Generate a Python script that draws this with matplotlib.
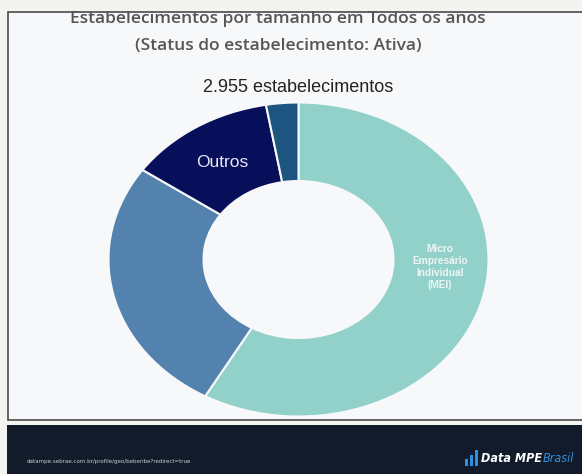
import matplotlib.pyplot as plt
from matplotlib.patches import Rectangle

# --- Data ---
labels = ['Micro\nEmpresário\nIndividual\n(MEI)', '', 'Outros', '']
counts = [1719, 783, 372, 81]
colors = ['#92d0ca', '#5282ad', '#070f5a', '#1e5580']
text_colors = ['#eef6f5', '#ffffff', '#e6e8f4', '#ffffff']
label_sizes = [7.3, 9, 12.5, 9]
total_label = '2.955 estabelecimentos'
title_lines = ['Estabelecimentos por tamanho em Todos os anos',
               '(Status do estabelecimento: Ativa)']
footer_url = 'datampe.sebrae.com.br/profile/geo/beberibe?redirect=true'

W, H = 582, 474
fig = plt.figure(figsize=(W / 100, H / 100), dpi=100)
fig.patch.set_facecolor('#f3f4f0')

# panel and footer
fig.patches.append(Rectangle((8 / W, 1 - 420 / H), 1, (420 - 12) / H,
                             transform=fig.transFigure, facecolor='#f7f8fa',
                             edgecolor='#4a4a4a', linewidth=1.2, zorder=-5))
fig.patches.append(Rectangle((7 / W, 0), 1, (H - 425) / H,
                             transform=fig.transFigure, facecolor='#121b29',
                             edgecolor='none', zorder=-5))

# donut (screenshot is stretched horizontally, so the axes aspect is left free)
ax = fig.add_axes([108.5 / W, 1 - 416.5 / H, 380 / W, 314 / H])
wedges, _ = ax.pie(counts, colors=colors, startangle=90, counterclock=False,
                   radius=1, wedgeprops=dict(width=0.5, edgecolor='#f7f8fa', linewidth=1.5))
ax.set_aspect('auto')
ax.set_xlim(-1, 1)
ax.set_ylim(-1, 1)
ax.axis('off')

# slice labels
ax.text(0.745, -0.045, labels[0], ha='center', va='center', color=text_colors[0],
        fontsize=label_sizes[0], fontweight='bold', family='Liberation Sans', linespacing=1.25)
ax.text(-0.40, 0.615, labels[2], ha='center', va='center', color=text_colors[2],
        fontsize=label_sizes[2], family='Liberation Sans')

# titles
fig.text(0.478, 1 - 19 / H, title_lines[0], ha='center', va='center', fontsize=12.5,
         color='#555555', family='Open Sans', fontweight='semibold')
fig.text(0.478, 1 - 46 / H, title_lines[1], ha='center', va='center', fontsize=12.5,
         color='#555555', family='Open Sans', fontweight='semibold')
fig.text(0.512, 1 - 87 / H, total_label, ha='center', va='center', fontsize=13,
         color='#222222', family='Liberation Sans')

# footer
fig.text(27 / W, 1 - 461 / H, footer_url, ha='left', va='center', fontsize=4.4,
         color='#c8ccd2', family='DejaVu Sans', fontstretch='condensed')
fig.text(481 / W, 1 - 458 / H, 'Data MPE', ha='left', va='center', fontsize=9,
         color='#ffffff', fontweight='bold', style='italic',
         family='DejaVu Sans', fontstretch='condensed')
fig.text(543 / W, 1 - 458 / H, 'Brasil', ha='left', va='center', fontsize=9,
         color='#2f8fe0', style='italic', family='DejaVu Sans', fontstretch='condensed')
# logo bars
for bx, bh in [(465, 7), (470, 11), (475, 16)]:
    fig.patches.append(Rectangle((bx / W, (H - 466) / H), 3.2 / W, bh / H,
                                 transform=fig.transFigure, facecolor='#2f8fe0',
                                 edgecolor='none', zorder=5))

fig.savefig('out.png', dpi=100, facecolor=fig.get_facecolor())
